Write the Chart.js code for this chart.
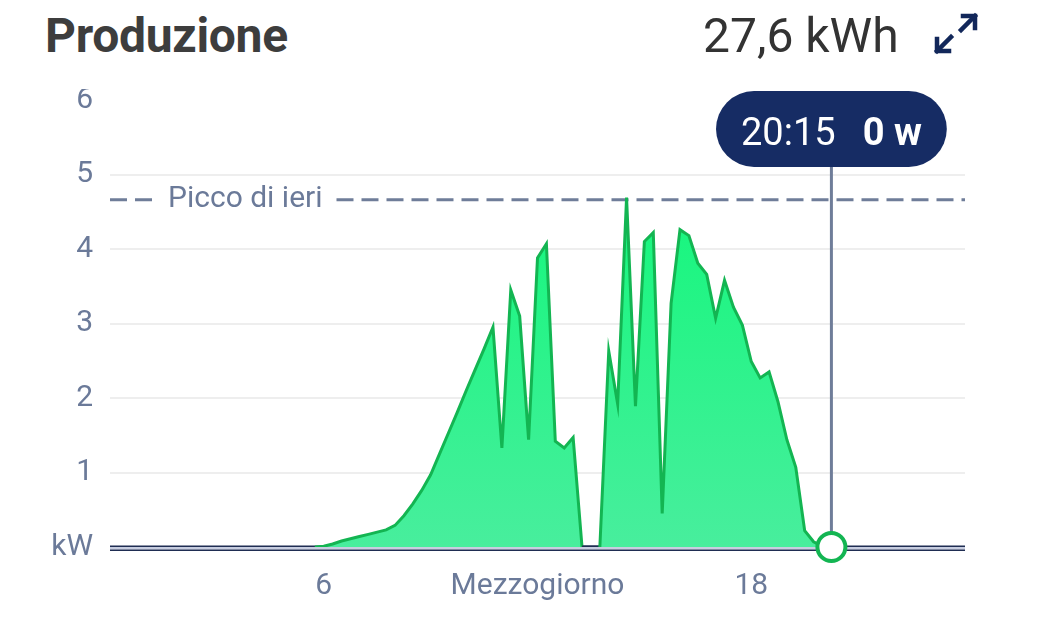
<!DOCTYPE html>
<html>
<head>
<meta charset="utf-8">
<script src="https://cdn.jsdelivr.net/npm/chart.js@4"></script>
<style>
    body { margin: 0; background: #fff; font-family: Roboto, sans-serif; }
    #wrap { position: relative; width: 1058px; height: 631px; overflow: hidden; }
    #band { position: absolute; left: 0; top: 0; width: 700px; height: 89px; background: #fff; }
    #title { position: absolute; left: 45px; top: 12px; font-size: 48px; line-height: 1; font-weight: 700; color: #3d3d3d; letter-spacing: -0.3px; }
    #total { position: absolute; left: 703px; top: 12px; font-size: 48px; line-height: 1; color: #333; }
    #expand { position: absolute; left: 932px; top: 11px; }
    #chart { position: absolute; left: 0; top: 0; }
</style>
</head>
<body>
<div id="wrap">
    <canvas id="chart" width="1058" height="631"></canvas>
    <div id="band"></div>
    <div id="title">Produzione</div>
    <div id="total">27,6 kWh</div>
    <svg id="expand" width="48" height="46" viewBox="0 0 48 46">
        <g fill="none" stroke="#12275a" stroke-width="4.5" stroke-linecap="square">
            <path d="M31 5 H43 V17"/>
            <path d="M43 5 L29 19"/>
            <path d="M17 40 H5 V28"/>
            <path d="M5 40 L19 26"/>
        </g>
    </svg>
</div>
<script>
// produzione ogni 15 minuti (kW)
const times = ["05:45", "06:00", "06:15", "06:30", "06:45", "07:00", "07:15", "07:30", "07:45",
    "08:00", "08:15", "08:30", "08:45", "09:00", "09:15", "09:30", "09:45",
    "10:00", "10:15", "10:30", "10:45", "11:00", "11:15", "11:30", "11:45",
    "12:00", "12:15", "12:30", "12:45", "13:00", "13:15", "13:30", "13:45",
    "14:00", "14:15", "14:30", "14:45", "15:00", "15:15", "15:30", "15:45",
    "16:00", "16:15", "16:30", "16:45", "17:00", "17:15", "17:30", "17:45",
    "18:00", "18:15", "18:30", "18:45", "19:00", "19:15", "19:30", "19:45",
    "20:00", "20:15"];
const power = [0, 0.01, 0.04, 0.08, 0.11, 0.14, 0.17, 0.20, 0.23,
    0.29, 0.42, 0.58, 0.76, 0.97, 1.25, 1.53, 1.81,
    2.10, 2.38, 2.66, 2.95, 1.33, 3.45, 3.10, 1.44,
    3.88, 4.07, 1.42, 1.33, 1.47, 0, 0, 0,
    2.63, 1.92, 4.69, 1.89, 4.10, 4.22, 0.45, 3.27,
    4.26, 4.18, 3.81, 3.66, 3.07, 3.58, 3.22, 2.98,
    2.49, 2.27, 2.35, 1.95, 1.44, 1.07, 0.22, 0.07,
    0.01, 0];
const yTicks = [0, 1, 2, 3, 4, 5, 6];
const xTicks = [6, 12, 18];
const yesterdayPeak = 4.66;
const selectedTime = "20:15";

const textColor = '#6b7a99';
const navy = '#162c64';

function toHours(t) {
    let parts = t.split(':');
    return parseInt(parts[0]) + parseInt(parts[1]) / 60;
}

let points = [];
times.forEach((t, i) => {
    points.push({ x: toHours(t), y: power[i] });
});

const chartPlugin = {
    id: 'produzione',
    beforeDatasetsDraw(chart) {
        const ctx = chart.ctx;
        const area = chart.chartArea;
        const y0 = chart.scales.y.getPixelForValue(0);

        // asse dello zero (doppia linea)
        ctx.save();
        ctx.fillStyle = '#1f2d52';
        ctx.fillRect(area.left, y0 - 1.5, area.right - area.left, 1.5);
        ctx.fillStyle = '#c7cde0';
        ctx.fillRect(area.left, y0, area.right - area.left, 2.5);
        ctx.fillStyle = '#1f2d52';
        ctx.fillRect(area.left, y0 + 2.5, area.right - area.left, 1.5);

        // picco di ieri
        const yp = chart.scales.y.getPixelForValue(yesterdayPeak);
        ctx.strokeStyle = '#6f7d99';
        ctx.lineWidth = 3;
        ctx.setLineDash([17, 8]);
        ctx.font = '30px Roboto';
        ctx.textBaseline = 'middle';
        ctx.fillStyle = textColor;
        const label = 'Picco di ieri';
        const tx = area.left + 58;
        const tw = ctx.measureText(label).width;
        ctx.beginPath();
        ctx.moveTo(area.left, yp);
        ctx.lineTo(tx - 14, yp);
        ctx.moveTo(tx + tw + 14, yp);
        ctx.lineTo(area.right, yp);
        ctx.stroke();
        ctx.fillText(label, tx, yp);
        ctx.restore();
    },
    afterDatasetsDraw(chart) {
        const ctx = chart.ctx;
        const idx = times.indexOf(selectedTime);
        const pt = chart.getDatasetMeta(0).data[idx];
        const px = pt.x;
        const pillTop = 91, pillH = 76;

        ctx.save();
        // linea verticale
        ctx.strokeStyle = '#6f7d99';
        ctx.lineWidth = 3;
        ctx.beginPath();
        ctx.moveTo(px, pillTop + pillH);
        ctx.lineTo(px, pt.y);
        ctx.stroke();

        // etichetta
        const t1 = selectedTime;
        const t2 = Math.round(power[idx] * 1000) + ' w';
        ctx.font = '38px Roboto';
        const w1 = ctx.measureText(t1).width;
        ctx.font = 'bold 38px Roboto';
        const w2 = ctx.measureText(t2).width;
        const gap = 27;
        const pad = 25;
        const pillW = w1 + gap + w2 + 2 * pad;
        const left = px - pillW / 2;
        ctx.fillStyle = navy;
        ctx.beginPath();
        ctx.roundRect(left, pillTop, pillW, pillH, pillH / 2);
        ctx.fill();
        ctx.fillStyle = '#fff';
        ctx.textBaseline = 'alphabetic';
        ctx.font = '38px Roboto';
        ctx.fillText(t1, left + pad, 145);
        ctx.font = 'bold 38px Roboto';
        ctx.fillText(t2, left + pad + w1 + gap, 145);

        // punto selezionato
        ctx.beginPath();
        ctx.arc(px, pt.y, 14, 0, Math.PI * 2);
        ctx.fillStyle = '#fff';
        ctx.fill();
        ctx.lineWidth = 4;
        ctx.strokeStyle = '#13b552';
        ctx.stroke();
        ctx.restore();
    }
};

function drawChart(canvasElement) {
    const ctx = canvasElement.getContext('2d');
    return new Chart(ctx, {
        type: 'line',
        data: {
            datasets: [{
                data: points,
                borderColor: '#13b552',
                borderWidth: 3,
                pointRadius: 0,
                tension: 0,
                fill: 'origin',
                segment: {
                    borderColor: (c) => (c.p0.parsed.y === 0 && c.p1.parsed.y === 0) ? '#1f2d52' : '#13b552'
                },
                backgroundColor: (c) => {
                    const area = c.chart.chartArea;
                    if (!area) return '#30f08c';
                    const g = c.chart.ctx.createLinearGradient(0, area.top + 90, 0, area.bottom);
                    g.addColorStop(0, '#14f77c');
                    g.addColorStop(1, '#48ee9d');
                    return g;
                }
            }]
        },
        options: {
            responsive: false,
            devicePixelRatio: 1,
            animation: false,
            layout: { padding: { top: 100, right: 93, left: 0, bottom: 0 } },
            plugins: { legend: { display: false }, tooltip: { enabled: false } },
            scales: {
                x: {
                    type: 'linear',
                    min: 0,
                    max: 24,
                    afterBuildTicks: (scale) => { scale.ticks = xTicks.map(v => ({ value: v })); },
                    afterFit: (scale) => { scale.height = 84; },
                    grid: { display: false, drawTicks: false },
                    border: { display: false },
                    ticks: {
                        padding: 21,
                        color: textColor,
                        font: { family: 'Roboto', size: 30 },
                        maxRotation: 0,
                        autoSkip: false,
                        callback: (v) => v === 12 ? 'Mezzogiorno' : v
                    }
                },
                y: {
                    min: 0,
                    max: 6,
                    afterBuildTicks: (scale) => { scale.ticks = yTicks.map(v => ({ value: v })); },
                    afterFit: (scale) => { scale.width = 110; },
                    grid: {
                        drawTicks: false,
                        lineWidth: 2,
                        color: (c) => (c.tick.value === 0 || c.tick.value === 6) ? 'rgba(0,0,0,0)' : '#eeeeee'
                    },
                    border: { display: false },
                    ticks: {
                        padding: 17,
                        color: textColor,
                        font: { family: 'Roboto', size: 30 },
                        callback: (v) => v === 0 ? 'kW' : v
                    }
                }
            }
        },
        plugins: [chartPlugin]
    });
}

drawChart(document.getElementById('chart'));
</script>
</body>
</html>
